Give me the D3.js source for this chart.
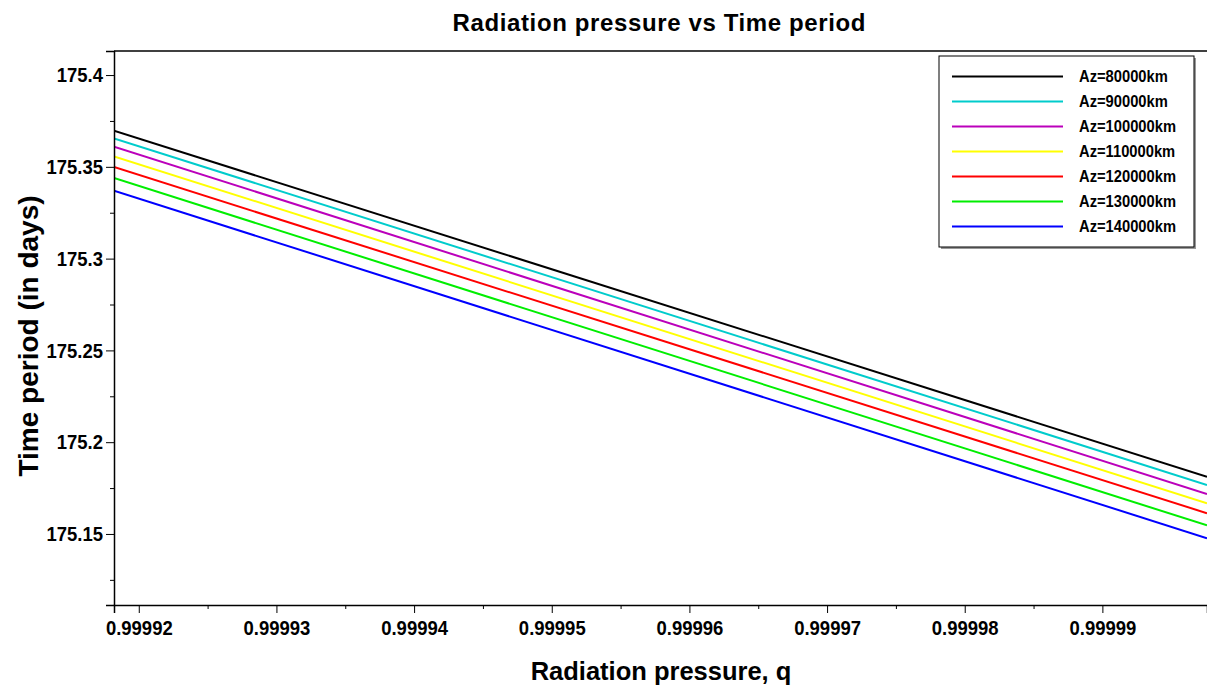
<!DOCTYPE html>
<html>
<head>
<meta charset="utf-8">
<script src="https://cdn.jsdelivr.net/npm/d3@7"></script>
<style>
  body { margin: 0; background: #fff; }
  svg { display: block; }
</style>
</head>
<body>
<div id="chart"></div>
<script>
// data (visible ends of each line)
const qValues = [0.9999182, 0.9999976];
const seriesNames = ["Az=80000km", "Az=90000km", "Az=100000km", "Az=110000km", "Az=120000km", "Az=130000km", "Az=140000km"];
const seriesColors = ["#000000", "#00cccc", "#bb00bb", "#ffff00", "#ff0000", "#00ee00", "#0000ff"];
const az80 = [175.3697, 175.1812];
const az90 = [175.3655, 175.1767];
const az100 = [175.3610, 175.1718];
const az110 = [175.3557, 175.1667];
const az120 = [175.3499, 175.1613];
const az130 = [175.3439, 175.1547];
const az140 = [175.3370, 175.1477];
const xTicks = [0.99992, 0.99993, 0.99994, 0.99995, 0.99996, 0.99997, 0.99998, 0.99999];
const xTickLabels = ["0.99992", "0.99993", "0.99994", "0.99995", "0.99996", "0.99997", "0.99998", "0.99999"];
const yTicks = [175.15, 175.2, 175.25, 175.3, 175.35, 175.4];
const yTickLabels = ["175.15", "175.2", "175.25", "175.3", "175.35", "175.4"];

document.addEventListener("DOMContentLoaded", function() {
    const width = 1207, height = 688;
    const plotLeft = 114, plotTop = 51, plotBottom = 605, plotRight = 1207;

    const series = [az80, az90, az100, az110, az120, az130, az140].map((vals, i) => ({
        name: seriesNames[i],
        color: seriesColors[i],
        points: vals.map((v, j) => [qValues[j], v])
    }));

    const svg = d3.select("#chart")
        .append("svg")
        .attr("width", width)
        .attr("height", height);

    const x = d3.scaleLinear().domain([0.9999182, 0.9999976]).range([plotLeft, plotRight]);
    const y = d3.scaleLinear().domain([175.1113, 175.4131]).range([plotBottom, plotTop]);

    const font = "'Liberation Sans', Arial, sans-serif";

    // squeeze bold text a bit, the original uses a narrow face
    function narrow(sel, k) {
        sel.each(function() {
            const w = this.getComputedTextLength();
            d3.select(this)
                .attr("textLength", w * k)
                .attr("lengthAdjust", "spacingAndGlyphs");
        });
    }

    svg.append("clipPath").attr("id", "clip")
        .append("rect")
        .attr("x", plotLeft).attr("y", plotTop)
        .attr("width", plotRight - plotLeft).attr("height", plotBottom - plotTop);

    // lines
    const line = d3.line().x(d => x(d[0])).y(d => y(d[1]));
    svg.append("g").attr("clip-path", "url(#clip)")
        .selectAll("path")
        .data(series)
        .enter()
        .append("path")
        .attr("fill", "none")
        .attr("stroke", d => d.color)
        .attr("stroke-width", 2)
        .attr("d", d => line(d.points));

    // top border
    svg.append("line")
        .attr("x1", plotLeft).attr("x2", plotRight)
        .attr("y1", plotTop).attr("y2", plotTop)
        .attr("stroke", "#000").attr("stroke-width", 1.5);

    // minor ticks
    const xMinor = xTicks.slice(0, -1).map((t, i) => (t + xTicks[i + 1]) / 2);
    const yMinor = [175.125].concat(yTicks.map(t => t + 0.025)).filter(t => t < y.domain()[1]);

    const xMinorAxis = svg.append("g")
        .attr("transform", `translate(0,${plotBottom})`)
        .call(d3.axisBottom(x).tickValues(xMinor).tickSize(4).tickFormat(""));
    xMinorAxis.select(".domain").remove();

    const xMajor = svg.append("g")
        .attr("transform", `translate(0,${plotBottom})`)
        .call(d3.axisBottom(x).tickValues(xTicks).tickSize(8).tickPadding(7)
            .tickFormat((d, i) => xTickLabels[i]));
    xMajor.select(".domain").attr("stroke-width", 1.5);
    xMajor.selectAll("text")
        .attr("font-family", font)
        .attr("font-weight", "bold")
        .attr("font-size", 21)
        .attr("fill", "#000")
        .call(narrow, 0.88);

    const yMinorAxis = svg.append("g")
        .attr("transform", `translate(${plotLeft},0)`)
        .call(d3.axisLeft(y).tickValues(yMinor).tickSize(4).tickFormat(""));
    yMinorAxis.select(".domain").remove();

    const yMajor = svg.append("g")
        .attr("transform", `translate(${plotLeft},0)`)
        .call(d3.axisLeft(y).tickValues(yTicks).tickSize(8).tickPadding(3)
            .tickFormat((d, i) => yTickLabels[i]));
    yMajor.select(".domain").attr("stroke-width", 1.5);
    yMajor.selectAll("text")
        .attr("font-family", font)
        .attr("font-weight", "bold")
        .attr("font-size", 21)
        .attr("fill", "#000")
        .call(narrow, 0.88);

    // titles
    svg.append("text")
        .attr("x", 659).attr("y", 31)
        .attr("text-anchor", "middle")
        .attr("font-family", font)
        .attr("font-weight", "bold")
        .attr("font-size", 24)
        .call(narrow, 1)
        .text("Radiation pressure vs Time period")
        .call(sel => sel.attr("textLength", 413).attr("lengthAdjust", "spacing"));

    svg.append("text")
        .attr("x", 661).attr("y", 680)
        .attr("text-anchor", "middle")
        .attr("font-family", font)
        .attr("font-weight", "bold")
        .attr("font-size", 25.5)
        .text("Radiation pressure, q");

    svg.append("text")
        .attr("transform", "translate(38,336) rotate(-90)")
        .attr("text-anchor", "middle")
        .attr("font-family", font)
        .attr("font-weight", "bold")
        .attr("font-size", 28)
        .text("Time period (in days)");

    // legend
    const legend = svg.append("g");
    legend.append("rect")
        .attr("x", 941).attr("y", 58)
        .attr("width", 255).attr("height", 191)
        .attr("fill", "#999");
    legend.append("rect")
        .attr("x", 939).attr("y", 56)
        .attr("width", 255).attr("height", 191)
        .attr("fill", "#fff")
        .attr("stroke", "#000")
        .attr("stroke-width", 1);

    const rows = legend.selectAll("g.row")
        .data(series)
        .enter()
        .append("g")
        .attr("class", "row")
        .attr("transform", (d, i) => `translate(0,${76.5 + i * 25})`);
    rows.append("line")
        .attr("x1", 952).attr("x2", 1063)
        .attr("stroke", d => d.color)
        .attr("stroke-width", 2);
    rows.append("text")
        .attr("x", 1079).attr("y", 5.5)
        .attr("font-family", font)
        .attr("font-weight", "bold")
        .attr("font-size", 16)
        .text(d => d.name)
        .call(narrow, 0.92);
});
</script>
</body>
</html>
